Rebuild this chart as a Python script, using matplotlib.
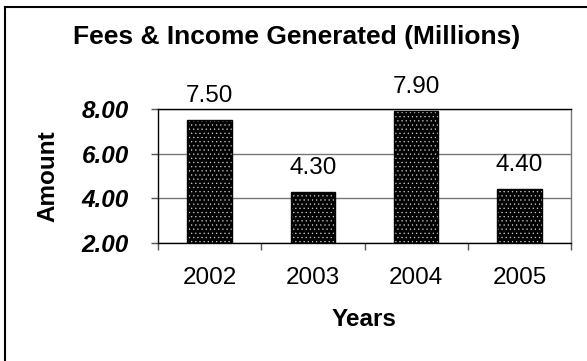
import matplotlib
matplotlib.use("Agg")
import matplotlib.pyplot as plt
from matplotlib.lines import Line2D

plt.rcParams['font.family'] = ['Liberation Sans', 'DejaVu Sans']
plt.rcParams['hatch.linewidth'] = 0.4

years = ["2002", "2003", "2004", "2005"]
amounts = [7.50, 4.30, 7.90, 4.40]
y_ticks = [2.00, 4.00, 6.00, 8.00]
title = "Fees & Income Generated (Millions)"

fs = 17.5
fig = plt.figure(figsize=(5.87, 3.61), dpi=100)
ax = fig.add_axes([158 / 587, 1 - 243 / 361, (571 - 158) / 587, (243 - 109) / 361])

x = list(range(len(years)))
bw = 0.43
# dotted fill: black face with light dot hatch, then a black outline on top
ax.bar(x, amounts, width=bw, color="black", edgecolor="#d0d0d0", hatch="....",
       linewidth=0, zorder=2)
ax.bar(x, amounts, width=bw, facecolor="none", edgecolor="black",
       linewidth=1.0, zorder=3)

for xi, v in zip(x, amounts):
    ax.annotate(f"{v:.2f}", (xi, v), xytext=(0, 17.3), textcoords="offset points",
                ha="center", va="center", fontsize=fs, annotation_clip=False)

ax.set_ylim(2, 8)
ax.set_xlim(-0.5, len(years) - 0.5)
ax.set_yticks(y_ticks)
ax.set_yticklabels([f"{t:.2f}" for t in y_ticks], fontsize=fs,
                   fontweight="bold", fontstyle="italic")
ax.set_xticks(x)
ax.set_xticklabels(years, fontsize=fs)
ax.set_xticks([i - 0.5 for i in range(len(years) + 1)], minor=True)
ax.tick_params(axis="x", which="major", length=0, pad=17)
ax.tick_params(axis="x", which="minor", length=5, width=1, color="#555555",
               direction="out")
ax.tick_params(axis="y", length=5, width=1, direction="out", pad=16,
               color="#555555")

ax.grid(axis="y", color="#777777", linewidth=1.0, zorder=0)
ax.set_axisbelow(True)
for side in ("left", "bottom", "top"):
    ax.spines[side].set_color("black")
    ax.spines[side].set_linewidth(1.0)
ax.spines["right"].set_color("#777777")
ax.spines["right"].set_linewidth(1.0)

ax.set_xlabel("Years", fontsize=fs, fontweight="bold")
ax.xaxis.set_label_coords(0.5, (243 - 319) / (243 - 109), transform=ax.transAxes)
ax.xaxis.label.set_va("center")
fig.text(48 / 587, 1 - 176 / 361, "Amount", rotation=90, fontsize=fs,
         fontweight="bold", ha="center", va="center")
fig.text(297 / 587, 1 - 37 / 361, title, fontsize=19, fontweight="bold",
         ha="center", va="center")

# outer frame (top and left edges)
fig.add_artist(Line2D([5 / 587, 1.0], [1 - 7 / 361, 1 - 7 / 361], color="black",
                      linewidth=1.5, transform=fig.transFigure))
fig.add_artist(Line2D([5 / 587, 5 / 587], [1 - 7 / 361, 0.0], color="black",
                      linewidth=1.5, transform=fig.transFigure))

fig.savefig("out.png", dpi=100, facecolor="white")
